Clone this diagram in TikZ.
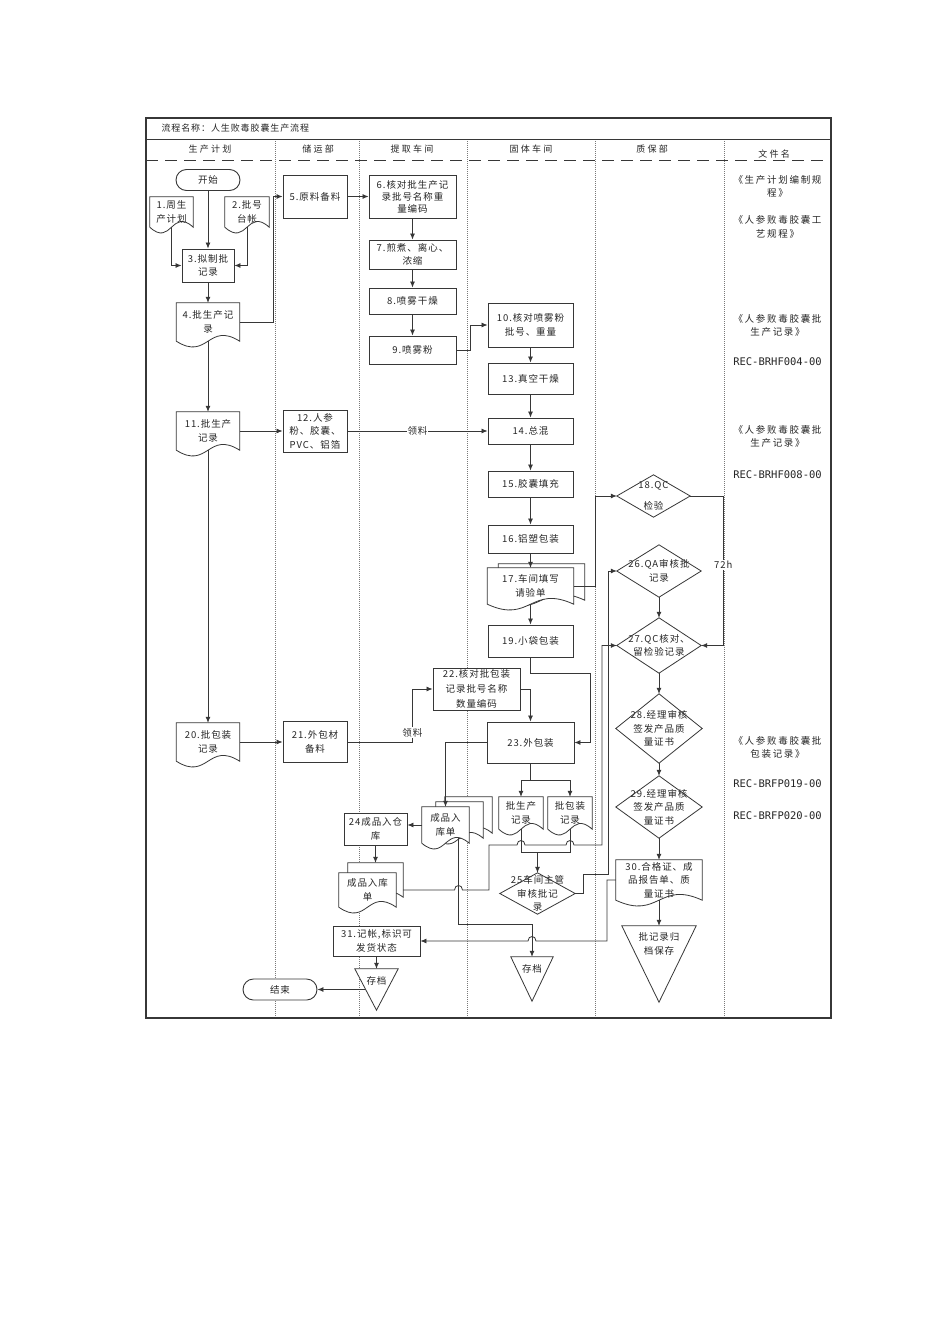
\documentclass[tikz,border=0pt]{standalone}
\usepackage{fontspec}
\setmainfont{Noto Sans CJK SC}[LetterSpace=10]
\newfontfamily\recfont{DejaVu Sans Mono}
\usetikzlibrary{arrows.meta,calc}

\definecolor{flowline}{RGB}{55, 55, 55}
\definecolor{lanegray}{RGB}{120, 120, 120}

\newcommand{\docnode}[5]{%
  \node[docbox, minimum width=#3, minimum height=#4] (#1) at (#2) {};
  \draw[line, fill=white] (#1.south west) -- (#1.north west) -- (#1.north east) -- (#1.south east)
    .. controls ($(#1.south)+(0,-20)$) and ($(#1.south)+(0,20)$) .. (#1.south west) -- cycle;
  \node[txt] (#1-t) at (#1) {#5};}

\newcommand{\decnode}[5]{%
  \node[txt, minimum width=#3, minimum height=#4] (#1) at (#2) {#5};
  \draw[line] (#1.north) -- (#1.east) -- (#1.south) -- (#1.west) -- cycle;}

\newcommand{\storenode}[6]{%
  \node[docbox, minimum width=#3, minimum height=#4] (#1) at (#2) {};
  \draw[line, fill=white] (#1.north west) -- (#1.north east) -- (#1.south) -- cycle;
  \node[txt] (#1-t) at ($(#1.north)+(0,#6)$) {#5};}

\begin{document}
\begin{tikzpicture}[x=1pt, y=-1pt, font=\fontsize{9.5}{13.5}\selectfont, text=black!85,
    line/.style={draw=flowline, line width=0.8pt},
    arr/.style={line, -{Latex[length=6pt, width=5pt]}},
    proc/.style={draw=flowline, line width=0.9pt, fill=white, align=center, inner sep=0pt},
    term/.style={proc, rounded corners=10.5pt},
    docbox/.style={inner sep=0pt},
    txt/.style={align=center, inner sep=0pt},
    lane/.style={draw=lanegray, line width=0.5pt, dash pattern=on 1pt off 1pt},
    head/.style={font=\fontsize{9}{11}\selectfont\addfontfeature{LetterSpace=25}},
    filelbl/.style={align=center, font=\fontsize{9.5}{13.5}\selectfont\addfontfeature{LetterSpace=18}},
    recno/.style={font=\recfont\fontsize{10.5}{12}\selectfont},
    tag/.style={fill=white, inner sep=1pt}]

            \useasboundingbox[fill=white] (0,0) rectangle (950,1344);

            \foreach \lx in {275, 359, 467, 595.5, 724}
                \draw[lane] (\lx,139) -- (\lx,1018);

            \draw[flowline, line width=1.1pt] (146,118) rectangle (831,1018);
            \draw[flowline, line width=0.8pt] (146,139) -- (831,139);
            \draw[flowline, line width=0.8pt, dash pattern=on 12pt off 7pt] (146,160) -- (831,160);

            \node[anchor=west, font=\fontsize{9}{11}\selectfont] (title) at (158,128) {流程名称：人生败毒胶囊生产流程};
            \node[head] (h1) at (210,149) {生产计划};
            \node[head] (h2) at (318,149) {储运部};
            \node[head] (h3) at (412,149) {提取车间};
            \node[head] (h4) at (531,149) {固体车间};
            \node[head] (h5) at (652,149) {质保部};
            \node[head] (h6) at (774,154) {文件名};

            \node[term, minimum width=64pt, minimum height=21pt] (start) at (208,180) {开始};
            \docnode{p1}{171.5,212}{43pt}{30pt}{1.周生\\产计划}
            \docnode{p2}{247,212}{44pt}{30pt}{2.批号\\台帐}
            \node[proc, minimum width=52pt, minimum height=33pt] (p3) at (208,265.5) {3.拟制批\\记录};
            \docnode{p4}{208,322}{63pt}{38pt}{4.批生产记\\录}
            \docnode{p11}{208,431}{63pt}{38pt}{11.批生产\\记录}
            \docnode{p20}{208,742}{63pt}{38pt}{20.批包装\\记录}
            \node[term, minimum width=74pt, minimum height=21pt] (stop) at (280,989.5) {结束};

            \node[proc, minimum width=64pt, minimum height=43pt] (p5) at (315,196.5) {5.原料备料};
            \node[proc, minimum width=64pt, minimum height=42pt] (p12) at (315,431) {12.人参\\粉、胶囊、\\PVC、铝箔};
            \node[proc, minimum width=64pt, minimum height=41pt] (p21) at (315,742) {21.外包材\\备料};
            \node[proc, minimum width=63pt, minimum height=32pt] (p24) at (375.5,829) {24成品入仓\\库};
            \docnode{rk2b}{375.5,880}{55pt}{34pt}{}
            \docnode{rk2}{367.5,890}{57pt}{34pt}{成品入库\\单}
            \node[proc, minimum width=87pt, minimum height=30pt] (p31) at (376.5,941) {31.记帐,标识可\\发货状态};
            \storenode{cd1}{376.5,989.5}{43pt}{41pt}{存档}{12}

            \node[proc, minimum width=87pt, minimum height=43pt, font=\fontsize{9.5}{12}\selectfont] (p6) at (412.5,196.5) {6.核对批生产记\\录批号名称重\\量编码};
            \node[proc, minimum width=87pt, minimum height=29pt] (p7) at (412.5,254.5) {7.煎煮、离心、\\浓缩};
            \node[proc, minimum width=87pt, minimum height=26pt] (p8) at (412.5,301) {8.喷雾干燥};
            \node[proc, minimum width=87pt, minimum height=28pt] (p9) at (412.5,350) {9.喷雾粉};
            \node[proc, minimum width=87pt, minimum height=42pt, font=\fontsize{9.5}{15}\selectfont] (p22) at (476.5,689) {22.核对批包装\\记录批号名称\\数量编码};

            \node[proc, minimum width=85pt, minimum height=44pt] (p10) at (530.5,325) {10.核对喷雾粉\\批号、重量};
            \node[proc, minimum width=85pt, minimum height=31pt] (p13) at (530.5,378.5) {13.真空干燥};
            \node[proc, minimum width=85pt, minimum height=26pt] (p14) at (530.5,431) {14.总混};
            \node[proc, minimum width=85pt, minimum height=26pt] (p15) at (530.5,484) {15.胶囊填充};
            \node[proc, minimum width=85pt, minimum height=28pt] (p16) at (530.5,539) {16.铝塑包装};
            \docnode{p17b}{541.5,582}{86pt}{36pt}{}
            \docnode{p17}{530.5,586}{86pt}{36pt}{17.车间填写\\请验单}
            \node[proc, minimum width=85pt, minimum height=32pt] (p19) at (530.5,641) {19.小袋包装};
            \node[proc, minimum width=87pt, minimum height=41pt] (p23) at (530.5,742.5) {23.外包装};
            \docnode{rk1c}{468.5,815}{47pt}{36pt}{}
            \docnode{rk1b}{459.5,820}{47pt}{36pt}{}
            \docnode{rk1}{445.5,825}{47pt}{36pt}{成品入\\库单}
            \docnode{bp}{521,813}{44pt}{32pt}{批生产\\记录}
            \docnode{bz}{570,813}{44pt}{32pt}{批包装\\记录}
            \decnode{p25}{537.5,893.5}{75pt}{41pt}{25车间主管\\审核批记\\录}
            \storenode{cd2}{532,979}{42pt}{44pt}{存档}{12}

            \decnode{p18}{653.5,496}{73pt}{42pt}{18.QC\\[7pt]检验}
            \decnode{p26}{659,571}{84pt}{52pt}{26.QA审核批\\记录}
            \decnode{p27}{659,645.5}{84pt}{55pt}{27.QC核对、\\留检验记录}
            \decnode{p28}{659,728.5}{86pt}{69pt}{28.经理审核\\签发产品质\\量证书}
            \decnode{p29}{659,807}{86pt}{62pt}{29.经理审核\\签发产品质\\量证书}
            \docnode{p30}{659,880}{86pt}{40pt}{30.合格证、成\\品报告单、质\\量证书}
            \storenode{cd3}{659,964}{74pt}{76pt}{批记录归\\档保存}{18}

            \node[filelbl] (f1) at (777.5,186.5) {《生产计划编制规\\程》};
            \node[filelbl] (f2) at (777.5,227) {《人参败毒胶囊工\\艺规程》};
            \node[filelbl] (f3) at (777.5,325.5) {《人参败毒胶囊批\\生产记录》};
            \node[recno] (f4) at (777.5,362) {REC-BRHF004-00};
            \node[filelbl] (f5) at (777.5,436.5) {《人参败毒胶囊批\\生产记录》};
            \node[recno] (f6) at (777.5,475) {REC-BRHF008-00};
            \node[filelbl] (f7) at (777.5,747.5) {《人参败毒胶囊批\\包装记录》};
            \node[recno] (f8) at (777.5,784) {REC-BRFP019-00};
            \node[recno] (f9) at (777.5,816) {REC-BRFP020-00};

            \draw[arr] (start) -- (p3);
            \draw[arr] (p1.south) |- (p3.west);
            \draw[arr] (p2.south) |- (p3.east);
            \draw[arr] (p3.south) -- (p3.south |- p4.north);
            \draw[arr] (p4.south) -- (p11.north);
            \draw[arr] (p11.south) -- (p20.north);
            \draw[arr] (p4.east) -- ++(34,0) |- (p5.west);
            \draw[arr] (p5) -- (p6);
            \draw[arr] (p6) -- (p7);
            \draw[arr] (p7) -- (p8);
            \draw[arr] (p8) -- (p9);
            \draw[arr] (p9.east) -- ++(14,0) |- (p10.west);
            \draw[arr] (p10) -- (p13);
            \draw[arr] (p13) -- (p14);
            \draw[arr] (p14) -- (p15);
            \draw[arr] (p15) -- (p16);
            \draw[arr] (p16.south) -- (p17.north);
            \draw[arr] (p17.south) -- (p19.north);
            \draw[arr] (p11.east) -- (p12.west);
            \draw[arr] (p12.east) -- node[tag] {领料} (p14.west);
            \draw[arr] (p17.east) -- ++(22,0) |- (p18.west);
            \draw[arr] (p18.east) -- ++(33,0) |- node[pos=0.23, tag] {72h} (p27.east);
            \draw[arr] (p26) -- (p27);
            \draw[arr] (p27) -- (p28);
            \draw[arr] (p28) -- (p29);
            \draw[arr] (p29.south) -- (p30.north);
            \draw[arr] (p30.south) -- (cd3.north);
            \draw[arr] (p25.east) -- ++(8,0) -- ++(0,-19.5) -| ($(p26.west)+(-8,0)$) -- (p26.west);
            \draw[arr] (p19.south) -- ++(0,16) -- ++(59.5,0) |- (p23.east);
            \draw[arr] (p20.east) -- (p21.west);
            \draw[arr] (p21.east) -- ++(65,0) |- node[pos=0.09, tag] {领料} (p22.west);
            \draw[arr] (p22.east) -| (p23.north);
            \draw[arr] (p23.west) -| (rk1.north);
            \draw[arr] (p23.south) -- ++(0,17) -| (bp.north);
            \draw[arr] (p23.south) -- ++(0,17) -| (bz.north);
            \draw[line] (bp.south) -- ++(0,23) coordinate (jn) -| (bz.south);
            \draw[arr] (jn -| p25.north) -- (p25.north);
            \draw[arr] (rk1.west) -- (rk1.west -| p24.east);
            \draw[arr] (p24.south) -- (p24.south |- rk2b.north);
            \draw[arr] ($(rk1.south)+(13,-5)$) |- ($(cd2.north)+(0,-32)$) -- (cd2.north);
            \draw[arr] (p31) -- (cd1.north);
            \draw[arr] ($(cd1.north west)!0.5!(cd1.south)$) -- (stop.east);
            \draw[arr] (rk2b.east |- rk2.east) -- (454.5,890) .. controls (454.5,884) and (462.5,884) .. (462.5,890)
                -- (489,890) -- (489,845) -- (517,845) .. controls (517,839) and (525,839) .. (525,845)
                -- (566,845) .. controls (566,839) and (574,839) .. (574,845) -- (602,845) |- (p27.west);
            \draw[arr] (p30.west) -- (607,880) -- (607,941) -- (536,941) .. controls (536,935) and (528,935) .. (528,941) -- (p31.east);

\end{tikzpicture}
\end{document}
